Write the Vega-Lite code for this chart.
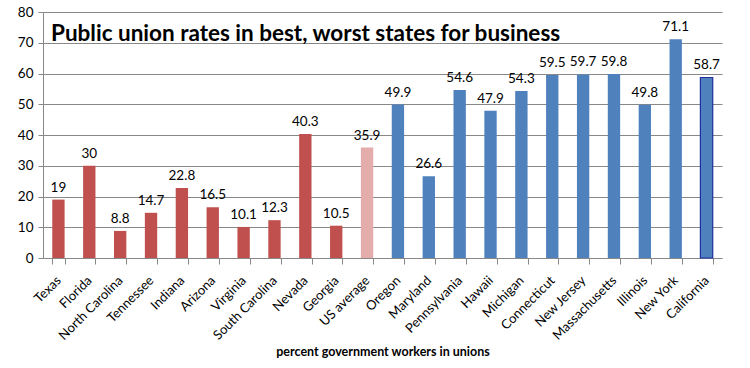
{
  "$schema": "https://vega.github.io/schema/vega-lite/v6.json",
  "width": 679,
  "height": 246,
  "autosize": {"type": "none"},
  "padding": {"left": 43, "top": 12, "right": 28, "bottom": 110},
  "background": "white",
  "config": {
    "view": {"stroke": null},
    "font": "Lato"
  },
  "title": {
    "text": "Public union rates in best, worst states for business",
    "anchor": "start",
    "frame": "group",
    "orient": "top",
    "baseline": "top",
    "offset": -35,
    "dx": 8,
    "dy": 5,
    "fontSize": 22.5,
    "fontWeight": "bold",
    "font": "Lato",
    "color": "black"
  },
  "data": {
    "values": [
      {"state": "Texas", "rate": 19, "group": "best"},
      {"state": "Florida", "rate": 30, "group": "best"},
      {"state": "North Carolina", "rate": 8.8, "group": "best"},
      {"state": "Tennessee", "rate": 14.7, "group": "best"},
      {"state": "Indiana", "rate": 22.8, "group": "best"},
      {"state": "Arizona", "rate": 16.5, "group": "best"},
      {"state": "Virginia", "rate": 10.1, "group": "best"},
      {"state": "South Carolina", "rate": 12.3, "group": "best"},
      {"state": "Nevada", "rate": 40.3, "group": "best"},
      {"state": "Georgia", "rate": 10.5, "group": "best"},
      {"state": "US average", "rate": 35.9, "group": "average"},
      {"state": "Oregon", "rate": 49.9, "group": "worst"},
      {"state": "Maryland", "rate": 26.6, "group": "worst"},
      {"state": "Pennsylvania", "rate": 54.6, "group": "worst"},
      {"state": "Hawaii", "rate": 47.9, "group": "worst"},
      {"state": "Michigan", "rate": 54.3, "group": "worst"},
      {"state": "Connecticut", "rate": 59.5, "group": "worst"},
      {"state": "New Jersey", "rate": 59.7, "group": "worst"},
      {"state": "Massachusetts", "rate": 59.8, "group": "worst"},
      {"state": "Illinois", "rate": 49.8, "group": "worst"},
      {"state": "New York", "rate": 71.1, "group": "worst"},
      {"state": "California", "rate": 58.7, "group": "worst"}
    ]
  },
  "encoding": {
    "x": {
      "field": "state",
      "type": "nominal",
      "sort": null,
      "scale": {"paddingInner": 0.6, "paddingOuter": 0.3},
      "axis": {
        "title": "percent government workers in unions",
        "titleFont": "Lato",
        "titleFontSize": 12.5,
        "titleFontWeight": "bold",
        "titleColor": "black",
        "titlePadding": 3,
        "labelAngle": -45,
        "labelAlign": "right",
        "labelBaseline": "middle",
        "labelFontSize": 13,
        "labelColor": "black",
        "labelPadding": 14,
        "tickBand": "extent",
        "tickColor": "#888888",
        "tickSize": 6,
        "domainColor": "#888888",
        "grid": false
      }
    },
    "y": {
      "field": "rate",
      "type": "quantitative",
      "scale": {"domain": [0, 80], "nice": false},
      "axis": {
        "title": null,
        "values": [0, 10, 20, 30, 40, 50, 60, 70, 80],
        "labelFontSize": 13.5,
        "labelColor": "black",
        "labelPadding": 5,
        "tickColor": "#888888",
        "tickSize": 5,
        "domainColor": "#888888",
        "grid": true,
        "gridColor": "#888888",
        "gridWidth": 1
      }
    }
  },
  "layer": [
    {
      "mark": {"type": "bar"},
      "encoding": {
        "color": {
          "field": "group",
          "type": "nominal",
          "scale": {"domain": ["best", "average", "worst"], "range": ["#C0504D", "#E4ADAC", "#4F81BD"]},
          "legend": null
        },
        "stroke": {
          "condition": {"test": "datum.state === 'California'", "value": "#1F2F9F"},
          "value": null
        },
        "strokeWidth": {
          "condition": {"test": "datum.state === 'California'", "value": 1.2},
          "value": 0
        }
      }
    },
    {
      "mark": {"type": "text", "baseline": "bottom", "dy": -5, "fontSize": 13.5, "color": "black"},
      "encoding": {
        "text": {"field": "rate", "type": "nominal"}
      }
    }
  ]
}
